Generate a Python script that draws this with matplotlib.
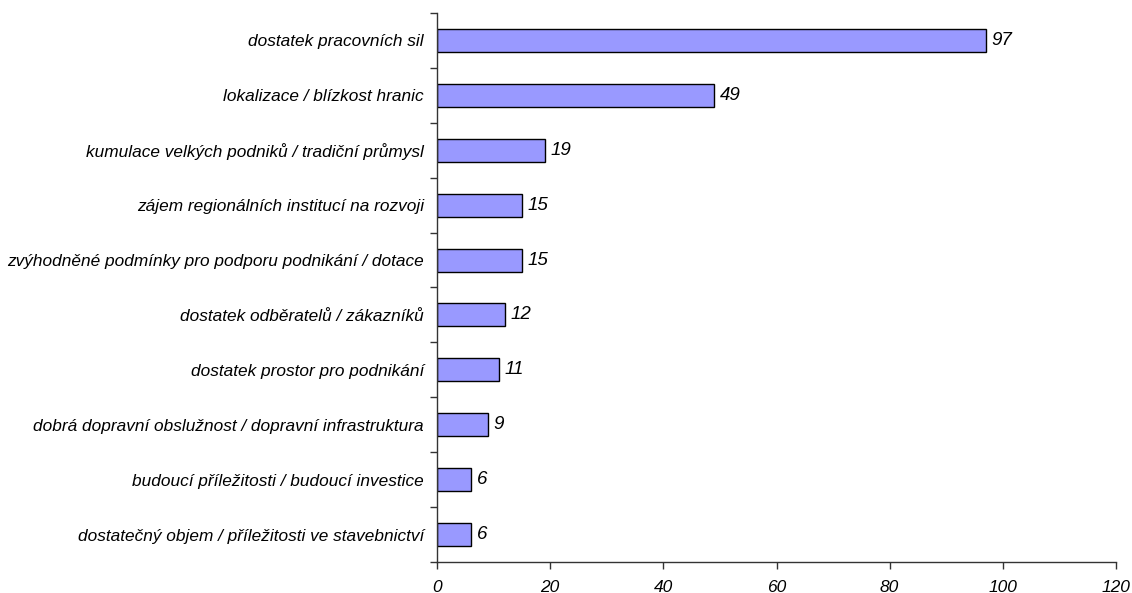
import matplotlib
matplotlib.use("Agg")
import matplotlib.pyplot as plt
import numpy as np

categories = [
    "dostatek pracovních sil",
    "lokalizace / blízkost hranic",
    "kumulace velkých podniků / tradiční průmysl",
    "zájem regionálních institucí na rozvoji",
    "zvýhodněné podmínky pro podporu podnikání / dotace",
    "dostatek odběratelů / zákazníků",
    "dostatek prostor pro podnikání",
    "dobrá dopravní obslužnost / dopravní infrastruktura",
    "budoucí příležitosti / budoucí investice",
    "dostatečný objem / příležitosti ve stavebnictví",
]
values = [97, 49, 19, 15, 15, 12, 11, 9, 6, 6]
xticks = [0, 20, 40, 60, 80, 100, 120]

plt.rcParams['font.family'] = ['Liberation Sans', 'DejaVu Sans']
plt.rcParams['font.style'] = 'italic'

fig = plt.figure(figsize=(11.32, 5.93), dpi=100)
ax = fig.add_axes([437/1132, 1 - 562/593, (1116 - 437)/1132, (562 - 13)/593])

n = len(categories)
y = np.arange(n)
ax.barh(y, values, height=0.42, color='#9999FF', edgecolor='black', linewidth=1.0)
ax.set_ylim(n - 0.5, -0.5)
ax.set_xlim(0, 120)
ax.set_xticks(xticks)
ax.set_xticklabels([str(t) for t in xticks], fontsize=12.5, fontstyle='italic')
ax.set_yticks(y)
ax.set_yticklabels(categories, fontsize=12.4, fontstyle='italic')
ax.tick_params(axis='y', which='major', length=0, pad=9.5)
ax.set_yticks(np.arange(n + 1) - 0.5, minor=True)
ax.tick_params(axis='y', which='minor', length=5, width=1, color='#333333')
ax.tick_params(axis='x', length=5, width=1, color='#333333', pad=8)

for s in ['top', 'right']:
    ax.spines[s].set_visible(False)
for s in ['left', 'bottom']:
    ax.spines[s].set_color('#333333')
    ax.spines[s].set_linewidth(1.0)

for yi, v in zip(y, values):
    ax.annotate(str(v), xy=(v, yi), xytext=(4, 0), textcoords='offset points',
                va='center', ha='left', fontsize=13.5, fontstyle='italic')

fig.savefig('out.png', dpi=100)
